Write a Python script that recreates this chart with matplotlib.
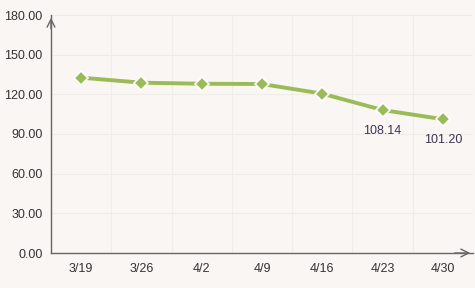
import matplotlib.pyplot as plt
import numpy as np

plt.rcParams['font.family'] = ['Liberation Sans', 'DejaVu Sans']

# chart data
dates = ['3/19', '3/26', '4/2', '4/9', '4/16', '4/23', '4/30']
values = [132.6, 128.8, 128.0, 127.8, 120.5, 108.14, 101.20]
labelled = [5, 6]  # points that carry a value label
y_ticks = [0, 30, 60, 90, 120, 150, 180]

bg = '#f9f6f3'
line_col = '#9bbb59'
axis_col = '#666666'
text_col = '#333333'

fig = plt.figure(figsize=(4.75, 2.88), dpi=100, facecolor=bg)
ax = fig.add_axes([51/475, 35/288, 422/475, 238/288], facecolor=bg)

x = np.arange(len(dates))
ax.plot(x, values, color=line_col, lw=2.8, zorder=3, solid_capstyle='round')
ax.plot(x, values, ls='none', marker='D', ms=7, mfc=line_col, mec='white',
        mew=1.2, zorder=4)

for i in labelled:
    ax.annotate(f'{values[i]:.2f}', (x[i], values[i]), xytext=(0, -11),
                textcoords='offset points', ha='center', va='top',
                fontsize=9, color='#3a3550')

ax.set_xlim(-0.5, len(dates) - 0.5)
ax.set_ylim(0, 180)
ax.set_yticks(y_ticks)
ax.set_yticklabels([f'{v:.2f}' for v in y_ticks])
ax.set_xticks(x)
ax.set_xticklabels(dates)
ax.set_xticks(np.arange(len(dates)) + 0.5, minor=True)

ax.grid(axis='y', which='major', color='#f0ecea', lw=0.8)
ax.grid(axis='x', which='minor', color='#f0ecea', lw=0.8)
ax.set_axisbelow(True)

ax.tick_params(axis='both', which='both', length=0, labelsize=9,
               labelcolor=text_col)
ax.tick_params(axis='x', pad=7)
ax.tick_params(axis='y', pad=6)

for s in ['top', 'right']:
    ax.spines[s].set_visible(False)
for s in ['left', 'bottom']:
    ax.spines[s].set_color(axis_col)
    ax.spines[s].set_linewidth(1)

# arrow heads on the axes
ax.annotate('', xy=(0, 1.0), xycoords='axes fraction', xytext=(0, 0.93),
            arrowprops=dict(arrowstyle='->', color=axis_col, lw=1,
                            mutation_scale=14))
ax.annotate('', xy=(1.0, 0), xycoords='axes fraction', xytext=(0.95, 0),
            arrowprops=dict(arrowstyle='->', color=axis_col, lw=1,
                            mutation_scale=14))

fig.savefig('out.png', dpi=100, facecolor=bg)
